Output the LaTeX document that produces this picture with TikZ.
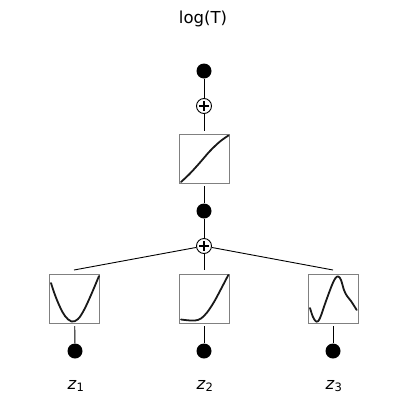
\documentclass[tikz,border=0pt]{standalone}
\usepackage{fontspec}
\setmainfont{DejaVu Sans}
\begin{document}
\begin{tikzpicture}[x=1pt,y=-1pt,
  dotnode/.style={circle,fill=black,inner sep=0pt,minimum size=15pt},
  sumnode/.style={circle,draw=black,line width=0.9pt,fill=white,inner sep=0pt,minimum size=15pt,
    path picture={\draw[line width=2.6pt] ([xshift=-4.6pt]path picture bounding box.center) -- ([xshift=4.6pt]path picture bounding box.center);
                  \draw[line width=2.6pt] ([yshift=-4.6pt]path picture bounding box.center) -- ([yshift=4.6pt]path picture bounding box.center);}},
  actbox/.style={rectangle,draw=gray,line width=0.8pt,minimum width=50pt,minimum height=49pt,inner sep=0pt,outer sep=3pt},
  conn/.style={black,line width=0.9pt},
  curve/.style={line width=1.8pt,color=black!90,line join=round,line cap=round},
  lbl/.style={font=\fontsize{16.5}{19}\selectfont}
]
\useasboundingbox (0,0) rectangle (407,405);

% title
\node[lbl] (title) at (203,19) {log(T)};

% top part
\node[dotnode] (out) at (204,71) {};
\node[sumnode] (sumtop) at (204,106) {};
\node[actbox] (btop) at (204,158.5) {};
\node[dotnode] (mid) at (204,211) {};
\node[sumnode] (sumbot) at (204,246) {};

% bottom boxes
\node[actbox] (b1) at (74.5,298.5) {};
\node[actbox] (b2) at (204,298.5) {};
\node[actbox] (b3) at (333,298.5) {};

\node[dotnode] (in1) at (75,351) {};
\node[dotnode] (in2) at (204,351) {};
\node[dotnode] (in3) at (333,351) {};

\node[lbl] (z1) at (76,386) {\textit{z}\textsubscript{1}};
\node[lbl] (z2) at (205,386) {\textit{z}\textsubscript{2}};
\node[lbl] (z3) at (334,386) {\textit{z}\textsubscript{3}};

\coordinate (t1) at (74,270);
\coordinate (t2) at (204,270);
\coordinate (t3) at (333,270);

% connectors
\draw[conn] (out) -- (sumtop);
\draw[conn] (sumtop) -- (btop);
\draw[conn] (btop) -- (mid);
\draw[conn] (mid) -- (sumbot);
\draw[conn] (sumbot) -- (t1);
\draw[conn] (sumbot) -- (t2);
\draw[conn] (sumbot) -- (t3);
\draw[conn] (b1) -- (in1);
\draw[conn] (b2) -- (in2);
\draw[conn] (b3) -- (in3);

% curves
\draw[curve] plot[smooth,tension=0.6] coordinates {(181,182) (190,173.5) (200,162.5) (210,151) (220,141.5) (228.5,135.5)};
\draw[curve] plot[smooth,tension=0.6] coordinates {(51,283) (55,295) (60,307) (65,316) (71.5,321.5) (78,319) (84,310) (91,295) (99,276)};
\draw[curve] plot[smooth,tension=0.6] coordinates {(181,319.5) (188,320.3) (195,320.5) (201,318.5) (207,312.5) (214,302) (221,289) (228.3,275)};
\draw[curve] plot[smooth,tension=0.6] coordinates {(310,308) (313,317) (316.5,321.7) (320,318) (326,301) (332,285) (335.5,278) (338.3,276.5) (341,280) (344,290) (347,296) (351,301) (356.7,310)};
\end{tikzpicture}
\end{document}
